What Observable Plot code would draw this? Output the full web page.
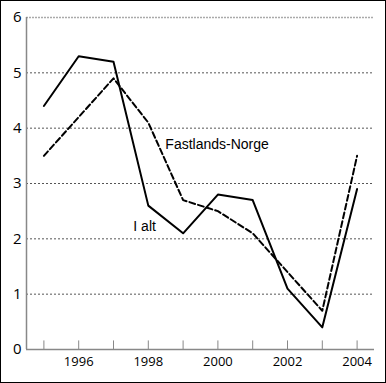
<!DOCTYPE html>
<html>
<head>
<meta charset="utf-8">
<script src="https://cdn.jsdelivr.net/npm/d3@7"></script>
<script src="https://cdn.jsdelivr.net/npm/@observablehq/plot@0.6"></script>
<style>
  body { margin: 0; background: #fff; }
  svg { display: block; outline: 1px solid #000; outline-offset: -1px; }
</style>
</head>
<body>
<div id="chart"></div>
<script>
const years = [1995, 1996, 1997, 1998, 1999, 2000, 2001, 2002, 2003, 2004];
const iAlt = [4.4, 5.3, 5.2, 2.6, 2.1, 2.8, 2.7, 1.1, 0.4, 2.9];
const fastlandsNorge = [3.5, 4.2, 4.9, 4.1, 2.7, 2.5, 2.1, 1.4, 0.7, 3.5];
const xTickLabels = [1996, 1998, 2000, 2002, 2004];
const yTicks = [0, 1, 2, 3, 4, 5, 6];
const gridDashed = [1, 2, 3, 4, 5];
const gridTop = [6];
const labels = [
  {name: "Fastlands-Norge", year: 1998.49, value: 3.7},
  {name: "I alt", year: 1997.57, value: 2.23}
];

const solid = years.map((y, i) => ({year: y, value: iAlt[i]}));
const dashed = years.map((y, i) => ({year: y, value: fastlandsNorge[i]}));

const chart = Plot.plot({
  width: 386,
  height: 383,
  marginLeft: 26,
  marginRight: 12,
  marginTop: 17,
  marginBottom: 34,
  style: {fontFamily: "'Open Sans', sans-serif", fontSize: "13px", color: "#000", background: "#fff"},
  x: {domain: [1994.5, 2004.5], label: null},
  y: {domain: [0, 6], label: null},
  marks: [
    Plot.ruleY(gridDashed, {y: d => d, stroke: "#555", strokeWidth: 1, strokeDasharray: "2,2"}),
    Plot.ruleY(gridTop, {y: d => d, stroke: "#aaa", strokeWidth: 1.5, strokeDasharray: "2,1"}),
    Plot.ruleX(years, {x: d => d, y1: 0, y2: 0.155, stroke: "#888", strokeWidth: 1}),
    Plot.ruleY([0], {stroke: "#888", strokeWidth: 1.5}),
    Plot.ruleX([1994.5], {stroke: "#888", strokeWidth: 1.5}),
    Plot.axisX(xTickLabels, {tickSize: 0, tickPadding: 7, tickFormat: d => String(d), fontSize: 13, fill: "#000", label: null}),
    Plot.axisY(yTicks, {tickSize: 0, tickPadding: 5, tickFormat: d => String(d), fontSize: 15, fill: "#000", label: null}),
    Plot.line(dashed, {x: "year", y: "value", stroke: "#000", strokeWidth: 2, strokeDasharray: "6,3"}),
    Plot.line(solid, {x: "year", y: "value", stroke: "#000", strokeWidth: 2}),
    Plot.text(labels, {x: "year", y: "value", text: "name", textAnchor: "start", fontFamily: "'Liberation Sans', Arial, sans-serif", fontSize: 14, fill: "#000"})
  ]
});
document.getElementById("chart").appendChild(chart);
</script>
</body>
</html>
